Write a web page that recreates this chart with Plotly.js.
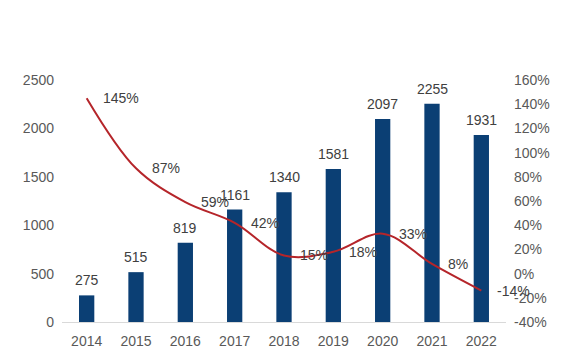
<!DOCTYPE html>
<html>
<head>
<meta charset="utf-8">
<script src="https://cdn.plot.ly/plotly-3.0.1.min.js"></script>
<style>html,body{margin:0;padding:0;background:#fff;}#chart{width:576px;height:356px;}</style>
</head>
<body>
<div id="chart"></div>
<script>
const years = [2014, 2015, 2016, 2017, 2018, 2019, 2020, 2021, 2022];
const counts = [275, 515, 819, 1161, 1340, 1581, 2097, 2255, 1931];
const growth = [145, 87, 59, 42, 15, 18, 33, 8, -14];
const leftTicks = [0, 500, 1000, 1500, 2000, 2500];
const rightTicks = [-40, -20, 0, 20, 40, 60, 80, 100, 120, 140, 160];

const fontFam = '"Liberation Sans", Arial, sans-serif';
const txtColor = '#595959';
const fs = 14;

const bars = {
  type: 'bar', x: years, y: counts, width: 0.31,
  marker: {color: '#0b3f74'},
  hoverinfo: 'none', showlegend: false
};
const line = {
  type: 'scatter', mode: 'lines', x: years, y: growth, yaxis: 'y2',
  line: {color: '#b5252a', width: 2, shape: 'spline', smoothing: 1},
  hoverinfo: 'none', showlegend: false
};
const barLabels = years.map((yr, i) => ({
  x: yr, y: counts[i], xref: 'x', yref: 'y',
  text: String(counts[i]), showarrow: false, xanchor: 'center', yanchor: 'bottom',
  yshift: 5, font: {family: fontFam, size: fs, color: '#404040'}
}));
const lineLabels = years.map((yr, i) => ({
  x: yr, y: growth[i], yref: 'y2', xref: 'x',
  text: growth[i] + '%', showarrow: false, xanchor: 'left', yanchor: 'middle',
  xshift: 14, font: {family: fontFam, size: fs, color: '#404040'}
}));

const layout = {
  width: 576, height: 356,
  margin: {l: 62, r: 70, t: 80, b: 34},
  paper_bgcolor: '#fff', plot_bgcolor: '#fff',
  font: {family: fontFam, size: fs, color: txtColor},
  xaxis: {type: 'linear', range: [2013.5, 2022.5], tickvals: years, ticktext: years.map(String),
          showgrid: false, zeroline: false, showline: true, linecolor: '#d9d9d9', linewidth: 1,
          ticks: '', ticklabelstandoff: 6, tickfont: {family: fontFam, size: fs, color: txtColor}},
  yaxis: {range: [0, 2500], tickvals: leftTicks, showgrid: false, zeroline: false,
          showline: false, ticks: '', ticklabelstandoff: 7,
          tickfont: {family: fontFam, size: fs, color: txtColor}},
  yaxis2: {range: [-40, 160], tickvals: rightTicks, ticktext: rightTicks.map(v => v + '%'),
           overlaying: 'y', side: 'right', showgrid: false, zeroline: false, showline: false,
           ticks: '', ticklabelstandoff: 7, tickfont: {family: fontFam, size: fs, color: txtColor}},
  annotations: barLabels.concat(lineLabels)
};
Plotly.newPlot('chart', [bars, line], layout, {staticPlot: true, displayModeBar: false});
</script>
</body>
</html>
